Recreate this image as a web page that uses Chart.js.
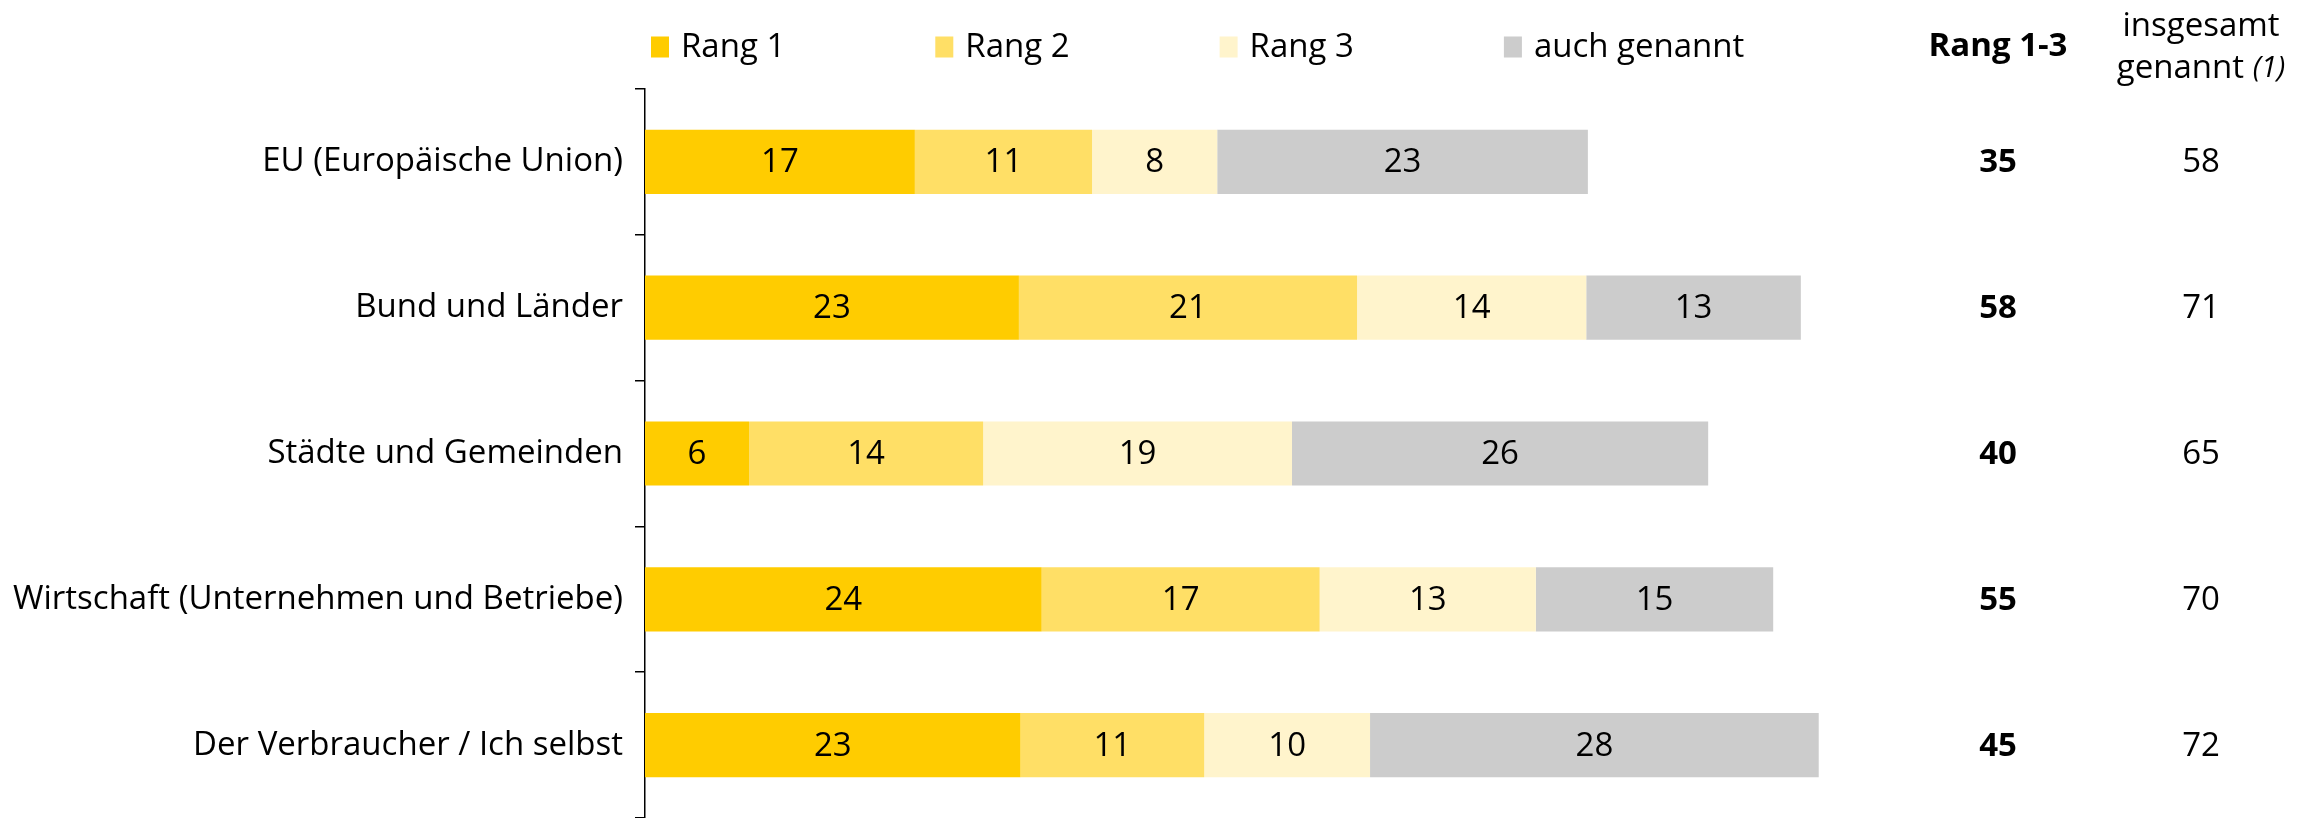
<!DOCTYPE html>
<html><head><meta charset="utf-8">
<script src="https://cdn.jsdelivr.net/npm/chart.js@4/dist/chart.umd.min.js"></script>
<style>html,body{margin:0;padding:0;background:#fff}#wrap{width:2316px;height:818px}</style>
</head><body><div id="wrap"><canvas id="c" width="2316" height="818"></canvas></div>
<script>
const categories = ['EU (Europäische Union)', 'Bund und Länder', 'Städte und Gemeinden', 'Wirtschaft (Unternehmen und Betriebe)', 'Der Verbraucher / Ich selbst'];
const rang1 = [16.6, 23.0, 6.4, 24.4, 23.1];
const rang2 = [10.9, 20.8, 14.4, 17.1, 11.3];
const rang3 = [7.7, 14.1, 19.0, 13.3, 10.2];
const auchGenannt = [22.8, 13.2, 25.6, 14.6, 27.6];
const rang13 = [35, 58, 40, 55, 45];
const insgesamt = [58, 71, 65, 70, 72];
const seriesNames = ['Rang 1', 'Rang 2', 'Rang 3', 'auch genannt'];
const seriesColors = ['#FFCC00', '#FFDF66', '#FFF4CC', '#CCCCCC'];
const headerRang = 'Rang 1-3';
const headerInsg1 = 'insgesamt';
const headerInsg2 = 'genannt ';
const headerInsgNote = '(1)';

const FONT = '"Open Sans", sans-serif';
const FS = 33;

const barLabels = {
  id: 'barLabels',
  afterDatasetsDraw(chart) {
    const ctx = chart.ctx;
    ctx.save();
    ctx.font = FS + 'px ' + FONT;
    ctx.fillStyle = '#000';
    ctx.textAlign = 'center';
    ctx.textBaseline = 'middle';
    chart.data.datasets.forEach((ds, di) => {
      const meta = chart.getDatasetMeta(di);
      meta.data.forEach((el, i) => {
        const v = ds.data[i];
        ctx.fillText(String(Math.round(v)), (el.x + el.base) / 2, el.y + 1);
      });
    });
    ctx.restore();
  }
};

const sideColumns = {
  id: 'sideColumns',
  afterDraw(chart) {
    const ctx = chart.ctx;
    const y = chart.scales.y;
    const xR = 1998, xI = 2201;
    ctx.save();
    ctx.fillStyle = '#000';
    ctx.textAlign = 'center';
    ctx.textBaseline = 'middle';
    ctx.font = 'bold ' + FS + 'px ' + FONT;
    ctx.fillText(headerRang, xR, 47);
    ctx.font = FS + 'px ' + FONT;
    ctx.fillText(headerInsg1, xI, 27);
    const w1 = ctx.measureText(headerInsg2).width;
    ctx.font = 'italic ' + (FS - 4) + 'px ' + FONT;
    const w2 = ctx.measureText(headerInsgNote).width;
    const start = xI - (w1 + w2) / 2;
    ctx.textAlign = 'left';
    ctx.font = FS + 'px ' + FONT;
    ctx.fillText(headerInsg2, start, 69);
    ctx.font = 'italic ' + (FS - 4) + 'px ' + FONT;
    ctx.fillText(headerInsgNote, start + w1, 69);
    ctx.textAlign = 'center';
    categories.forEach((c, i) => {
      const py = y.getPixelForValue(i) + 1;
      ctx.font = 'bold ' + FS + 'px ' + FONT;
      ctx.fillText(String(rang13[i]), xR, py);
      ctx.font = FS + 'px ' + FONT;
      ctx.fillText(String(insgesamt[i]), xI, py);
    });
    ctx.restore();
  }
};

const customLegend = {
  id: 'customLegend',
  afterDraw(chart) {
    const ctx = chart.ctx;
    ctx.save();
    ctx.font = FS + 'px ' + FONT;
    ctx.textBaseline = 'middle';
    ctx.textAlign = 'left';
    let x = 651;
    const yc = 47, bw = 18, bh = 21, gap = 12, pad = 150;
    chart.data.datasets.forEach(ds => {
      ctx.fillStyle = ds.backgroundColor;
      ctx.fillRect(x, yc - bh / 2, bw, bh);
      ctx.fillStyle = '#000';
      ctx.fillText(ds.label, x + bw + gap, yc + 1);
      x += bw + gap + ctx.measureText(ds.label).width + pad;
    });
    ctx.restore();
  }
};

const seriesData = [rang1, rang2, rang3, auchGenannt];

new Chart(document.getElementById('c'), {
  type: 'bar',
  data: {
    labels: categories,
    datasets: seriesNames.map((n, k) => ({
      label: n,
      data: seriesData[k],
      backgroundColor: seriesColors[k],
      borderWidth: 0,
      barPercentage: 0.44,
      categoryPercentage: 1.0
    }))
  },
  options: {
    indexAxis: 'y',
    responsive: false,
    animation: false,
    layout: { padding: { top: 89, right: 416, bottom: 0, left: 0 } },
    plugins: { legend: { display: false }, tooltip: { enabled: false } },
    scales: {
      x: { stacked: true, min: 0, max: 77.2, display: false },
      y: {
        stacked: true,
        grid: { display: true, drawOnChartArea: false, offset: true, tickLength: 10, color: '#000', lineWidth: 1.5 },
        border: { display: true, color: '#000', width: 1.5 },
        ticks: { color: '#000', padding: 12, font: { family: FONT, size: FS } },
        afterFit(scale) { scale.width = 645; scale.paddingTop = 0; scale.paddingBottom = 0; }
      }
    }
  },
  plugins: [barLabels, sideColumns, customLegend]
});
</script>
</body></html>
